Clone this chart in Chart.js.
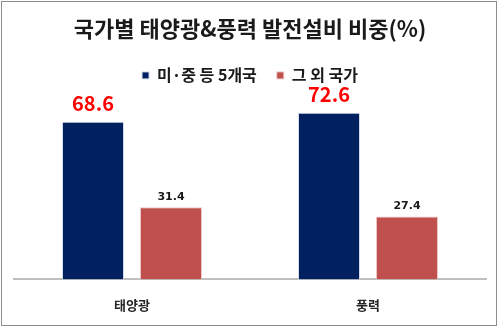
<!DOCTYPE html>
<html>
<head>
<meta charset="utf-8">
<script src="https://cdn.jsdelivr.net/npm/chart.js@4"></script>
<style>
  html, body { margin: 0; padding: 0; background: #fff; }
  #wrap { position: relative; width: 500px; height: 329px; }
  #frame { position: absolute; left: 1px; top: 1px; width: 494px; height: 323px; border: 1px solid #8c8c8c; pointer-events: none; }
  canvas { position: absolute; left: 0; top: 0; }
</style>
</head>
<body>
<div id="wrap">
  <canvas id="chart" width="500" height="329"></canvas>
  <div id="frame"></div>
</div>
<script>
  // 데이터
  const categories = ['태양광', '풍력'];
  const seriesNames = ['미·중 등 5개국', '그 외 국가'];
  const top5Values = [68.6, 72.6];
  const otherValues = [31.4, 27.4];
  const titleText = '국가별 태양광&풍력 발전설비 비중(%)';

  const FONT = '"Noto Sans CJK KR", "Noto Sans", sans-serif';

  // 막대 위 값 표시
  const valueLabels = {
    id: 'valueLabels',
    afterDatasetsDraw(chart) {
      const ctx = chart.ctx;
      ctx.save();
      ctx.textAlign = 'center';
      ctx.textBaseline = 'middle';
      chart.data.datasets.forEach((ds, i) => {
        const meta = chart.getDatasetMeta(i);
        meta.data.forEach((bar, j) => {
          const v = ds.data[j].toFixed(1);
          if (i === 0) {
            ctx.fillStyle = '#ff0000';
            ctx.font = 'bold 20px ' + FONT;
            ctx.fillText(v, bar.x, bar.y - 18);
          } else {
            ctx.fillStyle = '#1a1a1a';
            ctx.font = 'bold 11px "DejaVu Sans", sans-serif';
            ctx.fillText(v, bar.x, bar.y - 10);
          }
        });
      });
      ctx.restore();
    }
  };

  new Chart(document.getElementById('chart'), {
    type: 'bar',
    data: {
      labels: categories,
      datasets: [
        {
          label: seriesNames[0],
          data: top5Values,
          backgroundColor: '#002060',
          borderColor: '#d6dce8',
          borderWidth: 1
        },
        {
          label: seriesNames[1],
          data: otherValues,
          backgroundColor: '#c0504d',
          borderColor: '#ecc6c5',
          borderWidth: 1
        }
      ]
    },
    options: {
      responsive: false,
      animation: false,
      devicePixelRatio: 1,
      categoryPercentage: 0.661,
      barPercentage: 0.795,
      layout: { padding: { left: 14, right: 14, top: 0, bottom: 6 } },
      plugins: {
        title: {
          display: true,
          text: titleText,
          color: '#1a1a1a',
          font: { family: FONT, size: 22, weight: 'bold' },
          padding: { top: 15, bottom: 6 }
        },
        legend: {
          display: true,
          labels: {
            color: '#1a1a1a',
            font: { family: FONT, size: 16, weight: 'bold' },
            boxWidth: 7,
            boxHeight: 7,
            padding: 20
          }
        },
        tooltip: { enabled: false }
      },
      scales: {
        x: {
          grid: { display: false },
          border: { display: true, color: '#bfbfbf', width: 2 },
          ticks: {
            color: '#262626',
            font: { family: FONT, size: 13, weight: 'bold' },
            padding: 10
          }
        },
        y: {
          display: false,
          min: 0,
          max: 81
        }
      }
    },
    plugins: [valueLabels]
  });
</script>
</body>
</html>
